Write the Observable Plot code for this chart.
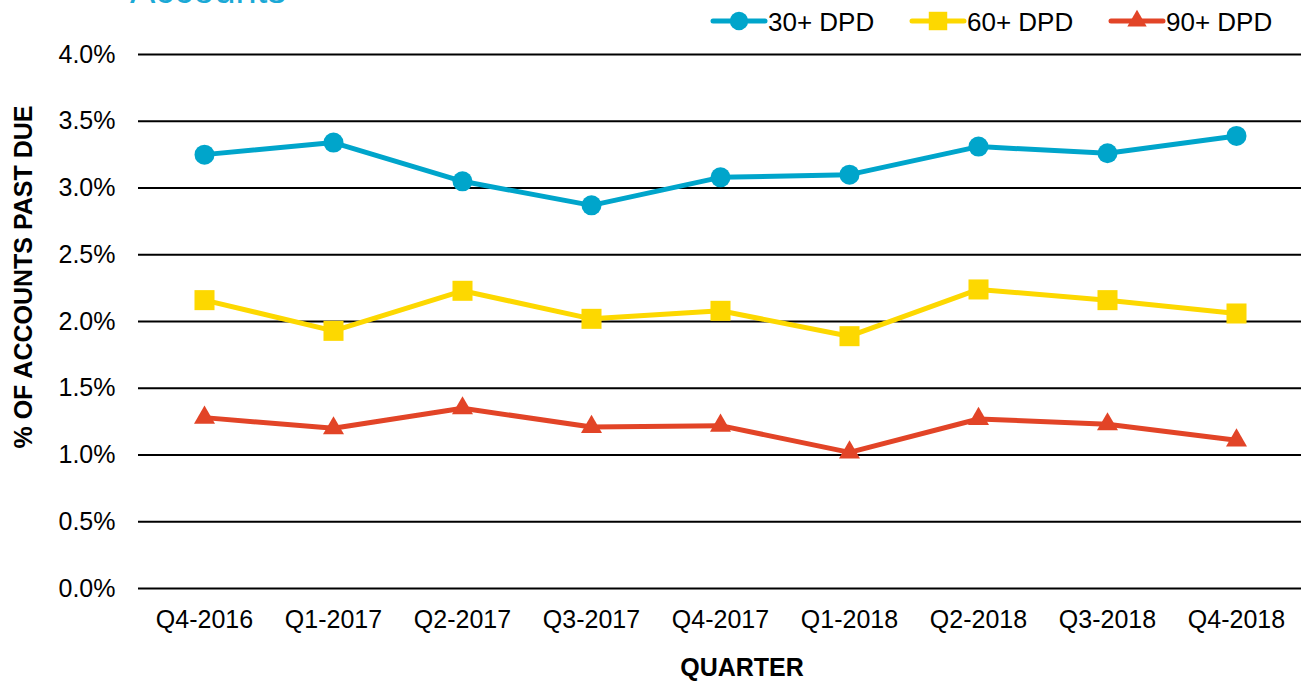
<!DOCTYPE html>
<html>
<head>
<meta charset="utf-8">
<script src="https://cdn.jsdelivr.net/npm/d3@7"></script>
<script src="https://cdn.jsdelivr.net/npm/@observablehq/plot@0.6"></script>
<style>
  html, body { margin: 0; padding: 0; background: #fff; overflow: hidden; }
  body { width: 1301px; height: 683px; position: relative; font-family: "Liberation Sans", Arial, sans-serif; }
  #title { position: absolute; left: 130px; top: -29px; font-size: 38px; line-height: 1; color: #1BA9D6; white-space: nowrap; }
  #legend { position: absolute; top: 5px; left: 0; width: 1301px; height: 32px; }
  .lab { position: absolute; font-size: 26px; line-height: 1; color: #000; white-space: nowrap; }
  .bold { font-weight: bold; }
  #chart { position: absolute; left: 0; top: 0; }
</style>
</head>
<body>
<div id="chart"></div>
<div id="title">Accounts</div>
<div id="legend"></div>
<div class="lab bold" id="ylab" style="left:23px; top:277px; transform: translate(-50%,-50%) rotate(-90deg); font-size:25px;">% OF ACCOUNTS PAST DUE</div>
<div class="lab bold" id="xlab" style="left:742px; top:667px; transform: translate(-50%,-50%); font-size:25px;">QUARTER</div>
<script>
const quarters = ["Q4-2016","Q1-2017","Q2-2017","Q3-2017","Q4-2017","Q1-2018","Q2-2018","Q3-2018","Q4-2018"];
const series = ["30+ DPD","60+ DPD","90+ DPD"];
const dpd30 = [0.0325, 0.0334, 0.0305, 0.0287, 0.0308, 0.0310, 0.0331, 0.0326, 0.0339];
const dpd60 = [0.0216, 0.0193, 0.0223, 0.0202, 0.0208, 0.0189, 0.0224, 0.0216, 0.0206];
const dpd90 = [0.0128, 0.0120, 0.0135, 0.0121, 0.0122, 0.0102, 0.0127, 0.0123, 0.0111];
const yTicks = [0, 0.005, 0.01, 0.015, 0.02, 0.025, 0.03, 0.035, 0.04];
const colors = ["#00A5CB", "#FDD800", "#E24427"];
const symbols = ["circle", "square", "triangle"];
const radii = [10, 11.3, 7.8];

const values = [dpd30, dpd60, dpd90];
const data = [];
series.forEach((s, i) => quarters.forEach((q, j) => data.push({series: s, quarter: q, value: values[i][j]})));

const marks = [
  Plot.ruleY(yTicks, {stroke: "#000", strokeWidth: 2})
];
series.forEach((s, i) => {
  const d = data.filter(r => r.series === s);
  marks.push(Plot.line(d, {x: "quarter", y: "value", stroke: colors[i], strokeWidth: 5}));
  marks.push(Plot.dot(d, {x: "quarter", y: "value", fill: colors[i], stroke: "none", symbol: () => symbols[i], r: radii[i]}));
});

const chart = Plot.plot({
  width: 1301,
  height: 683,
  marginLeft: 138,
  marginRight: 0,
  marginTop: 54,
  marginBottom: 95,
  style: {fontFamily: "Liberation Sans, Arial, sans-serif", fontSize: "25px", color: "#000", background: "transparent"},
  x: {type: "point", domain: quarters, padding: 0.5, label: null, tickSize: 0, tickPadding: 22},
  y: {domain: [0, 0.04], ticks: yTicks, tickFormat: d3.format(".1%"), label: null, tickSize: 0, tickPadding: 23},
  symbol: {domain: symbols, range: symbols},
  marks
});
document.getElementById("chart").appendChild(chart);

// legend
const legend = document.getElementById("legend");
const legendX = [710, 909, 1108];
series.forEach((s, i) => {
  const ns = "http://www.w3.org/2000/svg";
  const svg = document.createElementNS(ns, "svg");
  svg.setAttribute("width", 58); svg.setAttribute("height", 32);
  svg.style.position = "absolute"; svg.style.left = legendX[i] + "px"; svg.style.top = "0px";
  const ln = document.createElementNS(ns, "line");
  ln.setAttribute("x1", 3); ln.setAttribute("x2", 55); ln.setAttribute("y1", 16); ln.setAttribute("y2", 16);
  ln.setAttribute("stroke", colors[i]); ln.setAttribute("stroke-width", 5); ln.setAttribute("stroke-linecap", "round");
  svg.appendChild(ln);
  const sym = {circle: d3.symbolCircle, square: d3.symbolSquare, triangle: d3.symbolTriangle}[symbols[i]];
  const p = document.createElementNS(ns, "path");
  p.setAttribute("d", d3.symbol(sym, Math.PI * radii[i] * radii[i] * 0.85)());
  p.setAttribute("transform", "translate(29,16)");
  p.setAttribute("fill", colors[i]);
  svg.appendChild(p);
  legend.appendChild(svg);
  const t = document.createElement("div");
  t.className = "lab";
  t.textContent = s;
  t.style.left = (legendX[i] + 58) + "px";
  t.style.top = "4px";
  legend.appendChild(t);
});
</script>
</body>
</html>
